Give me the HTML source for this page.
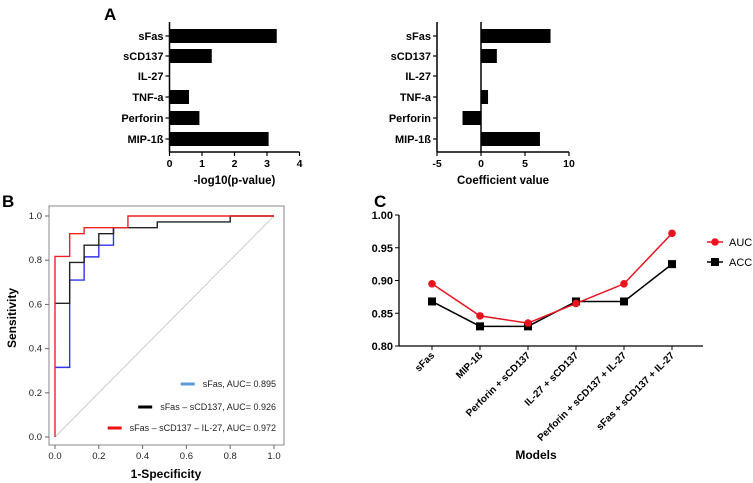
<!DOCTYPE html>
<html><head><meta charset="utf-8"><style>
body{margin:0;background:#fff}
svg{display:block;font-family:"Liberation Sans",Arial,sans-serif}
</style></head><body>
<svg id="fig" width="753" height="483" viewBox="0 0 753 483">
<text x="104" y="20" font-size="17" font-weight="bold">A</text>
<text x="2" y="207" font-size="17" font-weight="bold">B</text>
<text x="374" y="207" font-size="17" font-weight="bold">C</text>
<g id="a1"></g>
<g id="a2"></g>
<g id="b"></g>
<g id="c"></g>
</svg>
<script>
const barCats=["sFas","sCD137","IL-27","TNF-a","Perforin","MIP-1ß"];
const pvals=[3.3,1.3,0,0.6,0.92,3.05];
const coefs=[7.9,1.8,0,0.8,-2.1,6.7];
const pTicks=[0,1,2,3,4];
const cTicks=[-5,0,5,10];
const rocRedX=[0,0,0.067,0.067,0.133,0.133,0.333,0.333,1];
const rocRedY=[0,0.817,0.817,0.92,0.92,0.947,0.947,1,1];
const rocBlackX=[0,0.067,0.067,0.133,0.133,0.2,0.2,0.267,0.267,0.467,0.467,0.8,0.8,1];
const rocBlackY=[0.605,0.605,0.79,0.79,0.868,0.868,0.92,0.92,0.947,0.947,0.973,0.973,1,1];
const rocBlueX=[0,0.067,0.067,0.133,0.133,0.2,0.2,0.267,0.267];
const rocBlueY=[0.315,0.315,0.71,0.71,0.815,0.815,0.868,0.868,0.947];
const rocTicks=[0,0.2,0.4,0.6,0.8,1.0];
const models=["sFas","MIP-1ß","Perforin + sCD137","IL-27 + sCD137","Perforin + sCD137 + IL-27","sFas + sCD137 + IL-27"];
const auc=[0.895,0.846,0.835,0.865,0.895,0.972];
const acc=[0.868,0.83,0.83,0.868,0.868,0.925];
const cTicksY=[0.80,0.85,0.90,0.95,1.00];

const NS="http://www.w3.org/2000/svg";
function mk(parent,tag,attrs,text){const e=document.createElementNS(NS,tag);for(const k in attrs)e.setAttribute(k,attrs[k]);if(text!==undefined)e.textContent=text;parent.appendChild(e);return e;}

function barChart(g,vals,ticks,x0,x1,v0,v1,title,zeroLine){
  const sx=v=>x0+(v-v0)/(v1-v0)*(x1-x0);
  const cy=[36,56,76,97,118,139];
  const axX=x0;
  mk(g,"line",{x1:axX,y1:22,x2:axX,y2:152,stroke:"#000","stroke-width":1.5});
  mk(g,"line",{x1:x0,y1:152,x2:x1,y2:152,stroke:"#000","stroke-width":1.5});
  if(zeroLine) mk(g,"line",{x1:sx(0),y1:22,x2:sx(0),y2:152,stroke:"#000","stroke-width":1.5});
  barCats.forEach((c,i)=>{
    mk(g,"line",{x1:axX-4,y1:cy[i],x2:axX,y2:cy[i],stroke:"#000","stroke-width":1.2});
    const t=mk(g,"text",{x:axX-6,y:cy[i]+4,"font-size":11,"font-weight":"bold","text-anchor":"end"},c);
    
    
    if(vals[i]!==0){
      const a=sx(0),b=sx(vals[i]);
      const r=mk(g,"rect",{x:Math.min(a,b),y:cy[i]-7,width:Math.abs(b-a),height:14,fill:"#000"});
      
      
    }
  });
  ticks.forEach(t=>{
    mk(g,"line",{x1:sx(t),y1:152,x2:sx(t),y2:156,stroke:"#000","stroke-width":1.2});
    const l=mk(g,"text",{x:sx(t),y:167,"font-size":10.5,"font-weight":"bold","text-anchor":"middle"},t);
    
    
  });
  const tt=mk(g,"text",{x:(x0+x1)/2,y:184,"font-size":11.5,"font-weight":"bold","text-anchor":"middle"},title);
  
  
}
barChart(document.getElementById("a1"),pvals,pTicks,169.5,299.5,0,4,"-log10(p-value)",false);
barChart(document.getElementById("a2"),coefs,cTicks,437,569,-5,10,"Coefficient value",true);

// ROC
(function(){
  const g=document.getElementById("b");
  const sx=v=>55+v*219, sy=v=>437-v*221;
  mk(g,"rect",{x:49,y:206,width:235,height:239,fill:"none",stroke:"#888","stroke-width":1});
  mk(g,"line",{x1:sx(0),y1:sy(0),x2:sx(1),y2:sy(1),stroke:"#ccc","stroke-width":1});
  rocTicks.forEach(t=>{
    mk(g,"line",{x1:sx(t),y1:445,x2:sx(t),y2:449,stroke:"#666"});
    let l=mk(g,"text",{x:sx(t),y:459,"font-size":9.5,"text-anchor":"middle",fill:"#222"},t.toFixed(1));
    
    
    mk(g,"line",{x1:45,y1:sy(t),x2:49,y2:sy(t),stroke:"#666"});
    l=mk(g,"text",{x:42,y:sy(t)+3,"font-size":9.5,"text-anchor":"end",fill:"#222"},t.toFixed(1));
    
    
  });
  function path(xs,ys,col,name){
    const d=xs.map((x,i)=>(i?"L":"M")+sx(x)+","+sy(ys[i])).join("");
    const p=mk(g,"path",{d:d,fill:"none",stroke:col,"stroke-width":1.4});
    
    
  }
  path(rocBlueX,rocBlueY,"#3333ee","roc-sfas");
  path(rocBlackX,rocBlackY,"#222","roc-sfas-sCD137");
  path(rocRedX,rocRedY,"#ee2222","roc-sfas-sCD137-il27");
  const leg=[["#5b9bd5","sFas, AUC= 0.895",384],["#000","sFas \u2013 sCD137,  AUC= 0.926",407],["#ee1111","sFas \u2013 sCD137 \u2013 IL-27, AUC= 0.972",428]];
  leg.forEach(([c,t,y])=>{
    const tx=mk(g,"text",{x:276,y:y+3,"font-size":9,"text-anchor":"end",fill:"#222"},t);
    
    
    const w=tx.getComputedTextLength();
    mk(g,"line",{x1:276-w-22,y1:y,x2:276-w-8,y2:y,stroke:c,"stroke-width":3});
  });
  let t=mk(g,"text",{x:166,y:478,"font-size":12,"font-weight":"bold","text-anchor":"middle"},"1-Specificity");
  
  t=mk(g,"text",{x:0,y:0,"font-size":12,"font-weight":"bold","text-anchor":"middle",transform:"translate(16,318) rotate(-90)"},"Sensitivity");
  
})();

// Panel C
(function(){
  const g=document.getElementById("c");
  const sy=v=>346-(v-0.8)/0.2*131;
  const sx=i=>432+i*48;
  mk(g,"line",{x1:399,y1:215,x2:399,y2:346,stroke:"#000","stroke-width":1.3});
  mk(g,"line",{x1:399,y1:346,x2:703,y2:346,stroke:"#000","stroke-width":1.3});
  cTicksY.forEach(t=>{
    mk(g,"line",{x1:395,y1:sy(t),x2:399,y2:sy(t),stroke:"#000"});
    const l=mk(g,"text",{x:393,y:sy(t)+4,"font-size":11,"font-weight":"bold","text-anchor":"end"},t.toFixed(2));
    
  });
  models.forEach((m,i)=>{
    mk(g,"line",{x1:sx(i),y1:346,x2:sx(i),y2:350,stroke:"#000"});
    const l=mk(g,"text",{x:0,y:0,"font-size":10,"font-weight":"bold","text-anchor":"end",transform:`translate(${sx(i)+3},${356}) rotate(-45)`},m);
    
  });
  mk(g,"polyline",{points:acc.map((v,i)=>sx(i)+","+sy(v)).join(" "),fill:"none",stroke:"#000","stroke-width":1.5});
  mk(g,"polyline",{points:auc.map((v,i)=>sx(i)+","+sy(v)).join(" "),fill:"none",stroke:"#e8141e","stroke-width":1.5});
  acc.forEach((v,i)=>{
    const r=mk(g,"rect",{x:sx(i)-4,y:sy(v)-4,width:8,height:8,fill:"#000"});
    
  });
  auc.forEach((v,i)=>{
    const c=mk(g,"circle",{cx:sx(i),cy:sy(v),r:3.8,fill:"#e8141e"});
    
  });
  mk(g,"line",{x1:707,y1:242,x2:723,y2:242,stroke:"#e8141e","stroke-width":1.5});
  mk(g,"circle",{cx:715,cy:242,r:3.8,fill:"#e8141e"});
  let t=mk(g,"text",{x:729,y:246,"font-size":11},"AUC");
  
  mk(g,"line",{x1:707,y1:262,x2:723,y2:262,stroke:"#000","stroke-width":1.5});
  mk(g,"rect",{x:711,y:258,width:8,height:8,fill:"#000"});
  t=mk(g,"text",{x:729,y:266,"font-size":11},"ACC");
  
  t=mk(g,"text",{x:536,y:459,"font-size":12,"font-weight":"bold","text-anchor":"middle"},"Models");
  
})();
</script>
</body></html>
